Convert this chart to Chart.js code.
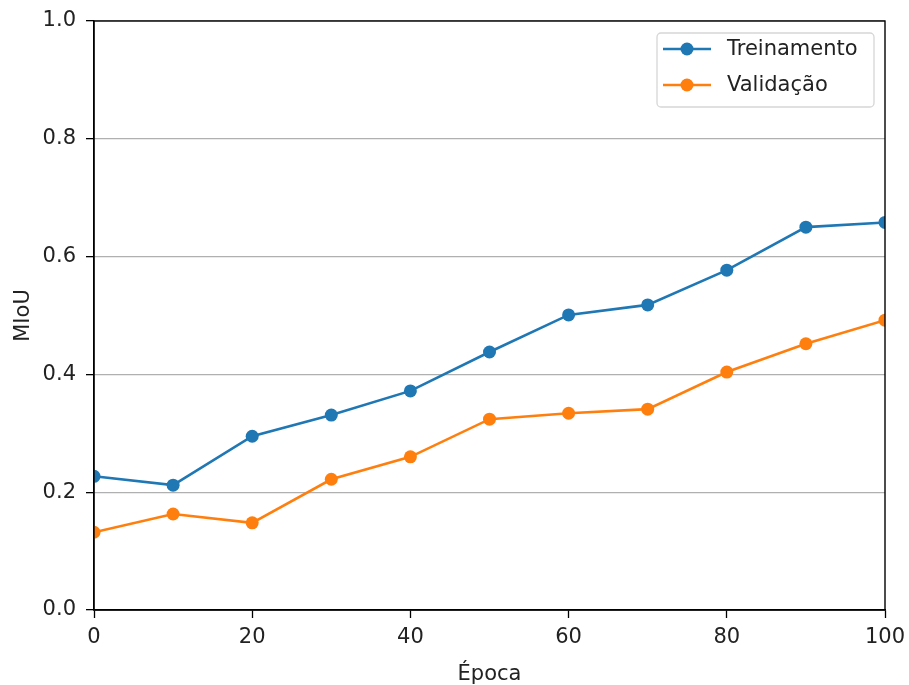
<!DOCTYPE html>
<html>
<head>
<meta charset="utf-8">
<script src="https://cdn.jsdelivr.net/npm/chart.js@4.4.0/dist/chart.umd.min.js"></script>
<style>
html,body{margin:0;padding:0;background:#fff;}
#wrap{width:909px;height:685px;position:relative;}
</style>
</head>
<body>
<div id="wrap"><canvas id="c" width="909" height="685"></canvas></div>
<script>
const epochs = [0, 10, 20, 30, 40, 50, 60, 70, 80, 90, 100];
const treinamento = [0.227, 0.212, 0.295, 0.331, 0.372, 0.438, 0.501, 0.518, 0.577, 0.650, 0.658];
const validacao = [0.132, 0.163, 0.148, 0.222, 0.260, 0.324, 0.334, 0.341, 0.404, 0.452, 0.492];
const seriesLabels = ['Treinamento', 'Validação'];
const xTicks = [0, 20, 40, 60, 80, 100];
const yTicks = [0.0, 0.2, 0.4, 0.6, 0.8, 1.0];

const BLUE = '#1f77b4', ORANGE = '#ff7f0e';
const FONT = "'DejaVu Sans', sans-serif";

const clipPlugin = {
  id: 'clipAll',
  beforeDatasetsDraw(chart) {
    const {ctx, chartArea: a} = chart;
    ctx.save();
    ctx.beginPath();
    ctx.rect(a.left, a.top, a.right - a.left, a.bottom - a.top);
    ctx.clip();
  },
  afterDatasetsDraw(chart) {
    chart.ctx.restore();
  }
};

const framePlugin = {
  id: 'frame',
  afterDraw(chart) {
    const {ctx, chartArea: a} = chart;
    ctx.save();
    ctx.strokeStyle = '#000';
    ctx.lineWidth = 1.4;
    ctx.strokeRect(a.left, a.top, a.right - a.left, a.bottom - a.top);
    // legend
    const lx = 657, ly = 33, lw = 217, lh = 74;
    ctx.fillStyle = 'rgba(255,255,255,0.8)';
    ctx.strokeStyle = '#d6d6d6';
    ctx.lineWidth = 1.3;
    ctx.beginPath();
    if (ctx.roundRect) ctx.roundRect(lx, ly, lw, lh, 4); else ctx.rect(lx, ly, lw, lh);
    ctx.fill(); ctx.stroke();
    chart.data.datasets.forEach((ds, i) => {
      const y = ly + 16 + i * 36;
      ctx.strokeStyle = ds.borderColor;
      ctx.lineWidth = 2.6;
      ctx.beginPath(); ctx.moveTo(663, y); ctx.lineTo(711, y); ctx.stroke();
      ctx.fillStyle = ds.borderColor;
      ctx.beginPath(); ctx.arc(687, y, 6.5, 0, Math.PI * 2); ctx.fill();
      ctx.fillStyle = '#222';
      ctx.font = '21px ' + FONT;
      ctx.textBaseline = 'middle';
      ctx.textAlign = 'left';
      ctx.fillText(ds.label, 727, y + 1);
    });
    ctx.restore();
  }
};

const points = (arr) => epochs.map((e, i) => ({x: e, y: arr[i]}));

new Chart(document.getElementById('c'), {
  type: 'line',
  data: {
    datasets: [
      {label: seriesLabels[0], data: points(treinamento), borderColor: BLUE, backgroundColor: BLUE,
       borderWidth: 2.6, pointRadius: 6.5, pointHoverRadius: 6.5, pointBorderWidth: 0, tension: 0, clip: 0},
      {label: seriesLabels[1], data: points(validacao), borderColor: ORANGE, backgroundColor: ORANGE,
       borderWidth: 2.6, pointRadius: 6.5, pointHoverRadius: 6.5, pointBorderWidth: 0, tension: 0, clip: 0}
    ]
  },
  options: {
    responsive: false,
    animation: false,
    events: [],
    layout: {padding: {left: 0, top: 21, right: 24, bottom: 0}},
    plugins: {legend: {display: false}, tooltip: {enabled: false}},
    scales: {
      x: {
        type: 'linear', min: 0, max: 100,
        afterBuildTicks: (s) => { s.ticks = xTicks.map(v => ({value: v})); },
        afterFit: (s) => { s.height = 75; s.paddingLeft = 0; s.paddingRight = 0; },
        grid: {display: true, drawOnChartArea: false, drawTicks: true, tickLength: 8, tickColor: '#000', tickWidth: 1.3},
        border: {display: true, color: '#000', width: 1.4},
        ticks: {font: {family: FONT, size: 21}, color: '#222', padding: 7, maxRotation: 0},
        title: {display: true, text: 'Época', font: {family: FONT, size: 21}, color: '#222', padding: {top: 0, bottom: -2}}
      },
      y: {
        type: 'linear', min: 0, max: 1,
        afterBuildTicks: (s) => { s.ticks = yTicks.map(v => ({value: v})); },
        afterFit: (s) => { s.width = 94; s.paddingTop = 0; s.paddingBottom = 0; },
        grid: {display: true, drawOnChartArea: true, drawTicks: true, tickLength: 8, color: '#b0b0b0', lineWidth: 1.3, tickColor: '#000', tickWidth: 1.3},
        border: {display: true, color: '#000', width: 1.4},
        ticks: {font: {family: FONT, size: 21}, color: '#222', padding: 10, callback: (v) => Number(v).toFixed(1)},
        title: {display: true, text: 'MIoU', font: {family: FONT, size: 21}, color: '#222', padding: {top: 11, bottom: 0}}
      }
    }
  },
  plugins: [clipPlugin, framePlugin]
});
</script>
</body>
</html>
